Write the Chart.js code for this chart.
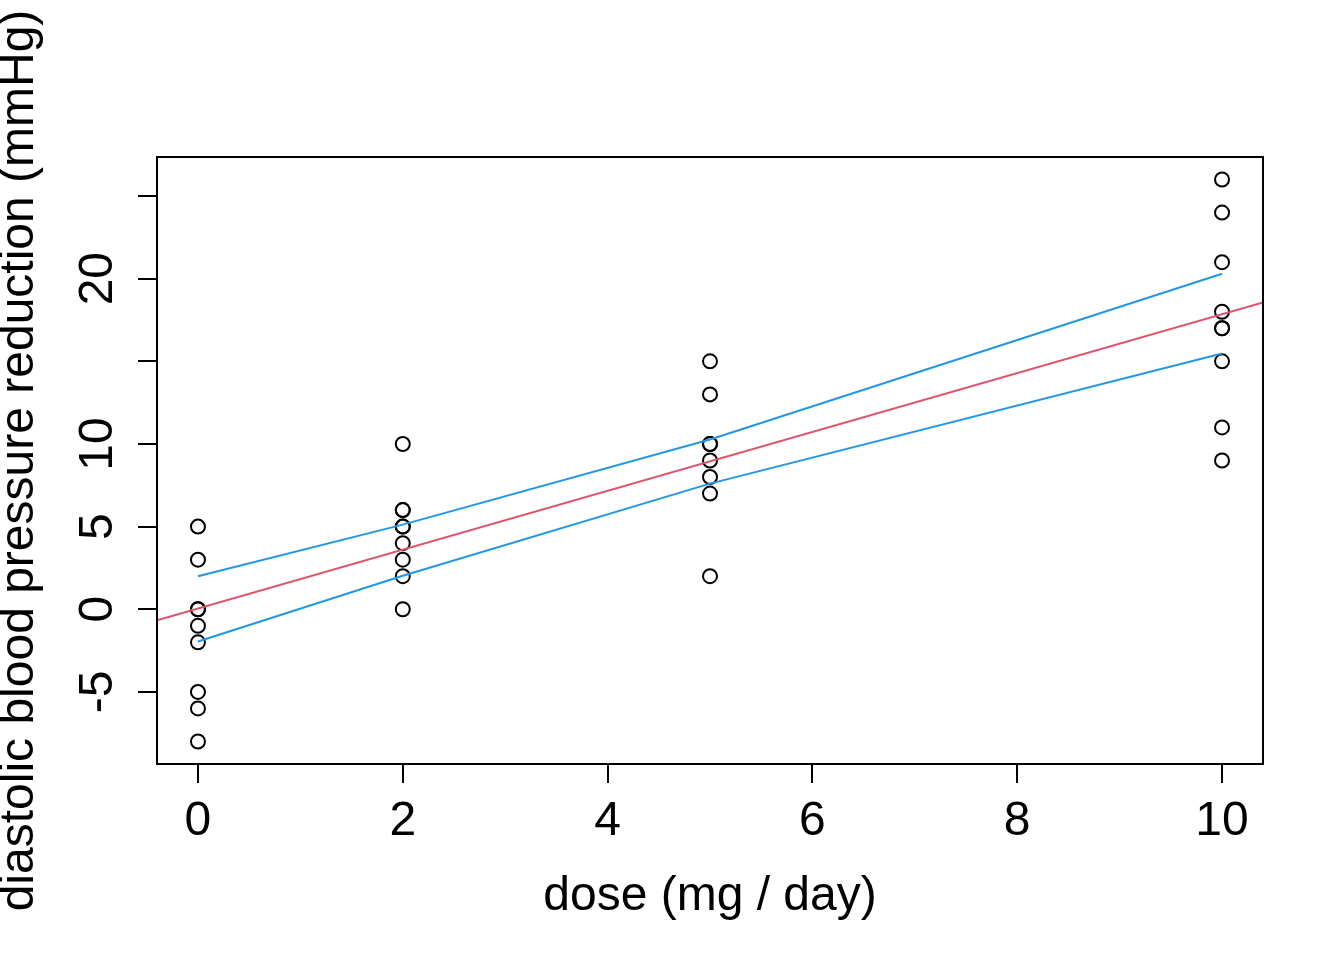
<!DOCTYPE html>
<html>
<head>
<meta charset="utf-8">
<script src="https://cdn.jsdelivr.net/npm/chart.js@4/dist/chart.umd.min.js"></script>
<style>
html, body { margin: 0; padding: 0; background: #fff; }
canvas { display: block; }
</style>
</head>
<body>
<canvas id="chart" width="1344" height="960"></canvas>
<script>
const doseLevels = [0, 2, 5, 10];
const reductionAt0 = [5, 3, 0, 0, -1, -2, -5, -6, -8];
const reductionAt2 = [10, 6, 6, 5, 5, 4, 3, 2, 0];
const reductionAt5 = [15, 13, 10, 10, 9, 8, 7, 2];
const reductionAt10 = [26, 24, 21, 18, 17, 17, 15, 11, 9];

// fitted line (abline, spans the whole plot) and the band at the dose levels
const fitX = [-0.4, 10.4];
const fitY = [-0.66, 18.56];
const upperBand = [2.0, 5.12, 10.27, 20.3];
const lowerBand = [-1.95, 2.03, 7.6, 15.47];

const xTicks = [0, 2, 4, 6, 8, 10];
const yTicks = [-5, 0, 5, 10, 15, 20, 25];
const yTickLabels = ['-5', '0', '5', '10', '', '20', ''];
const xTitle = 'dose (mg / day)';
const yTitle = 'diastolic blood pressure reduction (mmHg)';

const FONT = '48px "Liberation Sans", Arial, Helvetica, sans-serif';

let points = [];
[reductionAt0, reductionAt2, reductionAt5, reductionAt10].forEach((vals, i) => {
    vals.forEach(v => points.push({ x: doseLevels[i], y: v }));
});

const band = arr => arr.map((v, i) => ({ x: doseLevels[i], y: v }));

const rBase = {
    id: 'rBase',
    afterDraw(chart) {
        const { ctx, chartArea: a, scales: { x, y } } = chart;
        ctx.save();
        ctx.strokeStyle = '#000';
        ctx.lineWidth = 2;
        ctx.strokeRect(a.left, a.top, a.right - a.left, a.bottom - a.top);

        ctx.fillStyle = '#000';
        ctx.font = FONT;
        ctx.textAlign = 'center';
        ctx.textBaseline = 'alphabetic';
        xTicks.forEach(v => ctx.fillText(String(v), x.getPixelForValue(v), 835));
        ctx.fillText(xTitle, (a.left + a.right) / 2, 910);

        yTicks.forEach((v, i) => {
            if (!yTickLabels[i]) return;
            ctx.save();
            ctx.translate(112, y.getPixelForValue(v));
            ctx.rotate(-Math.PI / 2);
            ctx.fillText(yTickLabels[i], 0, 0);
            ctx.restore();
        });

        ctx.translate(33, (a.top + a.bottom) / 2);
        ctx.rotate(-Math.PI / 2);
        ctx.fillText(yTitle, 0, 0);
        ctx.restore();
    }
};

const tickGrid = { drawOnChartArea: false, drawTicks: true, tickLength: 19, color: '#000', lineWidth: 2 };

new Chart(document.getElementById('chart'), {
    type: 'scatter',
    data: {
        datasets: [
            {
                data: fitX.map((v, i) => ({ x: v, y: fitY[i] })),
                showLine: true, borderColor: '#DF536B', borderWidth: 2, pointRadius: 0
            },
            {
                data: band(upperBand),
                showLine: true, borderColor: '#2297E6', borderWidth: 2, pointRadius: 0
            },
            {
                data: band(lowerBand),
                showLine: true, borderColor: '#2297E6', borderWidth: 2, pointRadius: 0
            },
            {
                data: points,
                pointStyle: 'circle',
                pointRadius: 7,
                borderWidth: 2,
                borderColor: '#000',
                backgroundColor: 'rgba(0,0,0,0)'
            }
        ]
    },
    options: {
        responsive: false,
        animation: false,
        events: [],
        layout: { padding: { left: 0, top: 157, right: 81, bottom: 0 } },
        plugins: { legend: { display: false }, tooltip: { enabled: false } },
        scales: {
            x: {
                type: 'linear', min: -0.4, max: 10.4,
                afterBuildTicks: s => { s.ticks = xTicks.map(v => ({ value: v })); },
                afterFit: s => { s.height = 196; },
                ticks: { display: false },
                grid: tickGrid,
                border: { display: false }
            },
            y: {
                type: 'linear', min: -9.36, max: 27.36,
                afterBuildTicks: s => { s.ticks = yTicks.map(v => ({ value: v })); },
                afterFit: s => { s.width = 157; },
                ticks: { display: false },
                grid: tickGrid,
                border: { display: false }
            }
        }
    },
    plugins: [rBase]
});
</script>
</body>
</html>
